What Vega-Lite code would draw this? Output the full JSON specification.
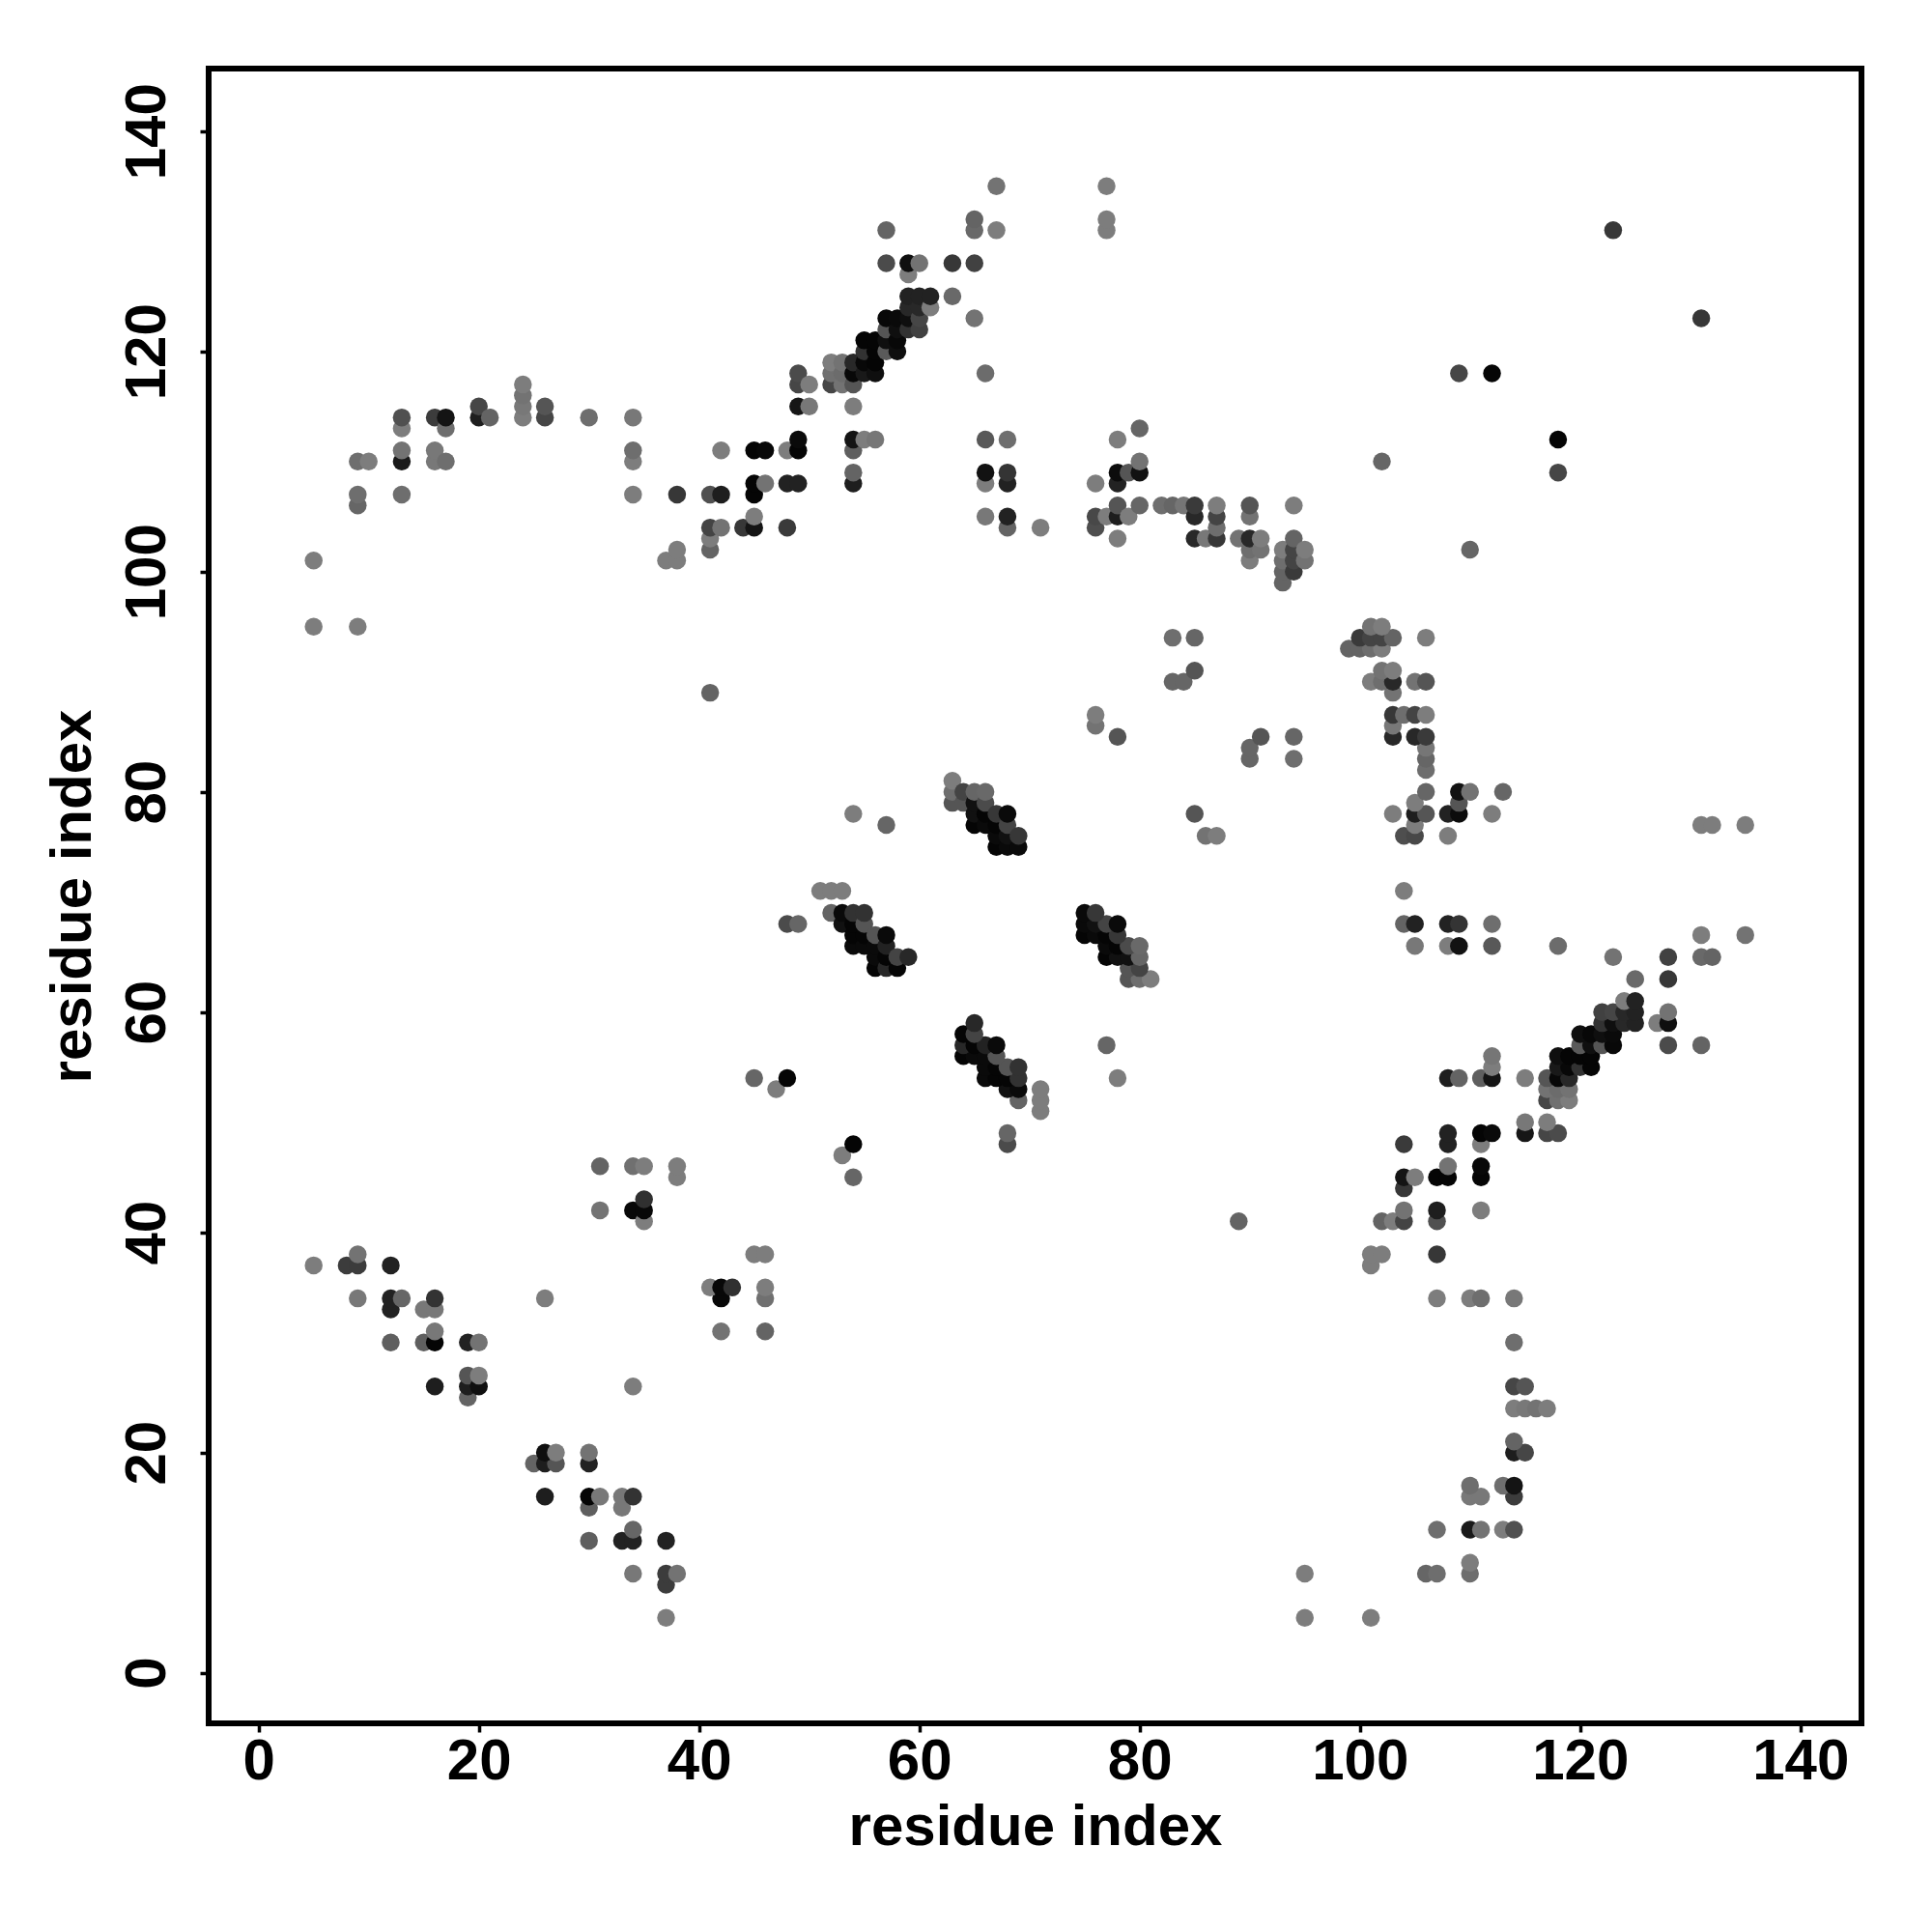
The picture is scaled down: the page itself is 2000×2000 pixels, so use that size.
{"$schema":"https://vega.github.io/schema/vega-lite/v6.json","width":1711,"height":1713,"autosize":{"type":"none"},"padding":{"left":216,"top":71,"right":73,"bottom":216},"background":"white","config":{"view":{"stroke":"#000000","strokeWidth":6,"fill":"white"}},
"data":{"values":[
{"x":5,"y":37,"g":125},{"x":5,"y":95,"g":125},{"x":5,"y":101,"g":125},{"x":8,"y":37,"g":60},{"x":9,"y":34,"g":120},{"x":9,"y":37,"g":60},{"x":9,"y":38,"g":115},{"x":9,"y":95,"g":125},{"x":9,"y":106,"g":102},{"x":9,"y":107,"g":110},{"x":9,"y":110,"g":110},{"x":10,"y":110,"g":125},{"x":12,"y":30,"g":95},{"x":12,"y":33,"g":34},{"x":12,"y":34,"g":34},{"x":12,"y":37,"g":34},{"x":13,"y":34,"g":102},{"x":13,"y":107,"g":110},{"x":13,"y":110,"g":26},{"x":13,"y":111,"g":115},{"x":13,"y":113,"g":125},{"x":13,"y":114,"g":80},{"x":15,"y":30,"g":95},{"x":15,"y":33,"g":120},{"x":16,"y":26,"g":30},{"x":16,"y":30,"g":5},{"x":16,"y":31,"g":120},{"x":16,"y":33,"g":120},{"x":16,"y":34,"g":51},{"x":16,"y":110,"g":120},{"x":16,"y":111,"g":120},{"x":16,"y":114,"g":60},{"x":17,"y":110,"g":110},{"x":17,"y":113,"g":110},{"x":17,"y":114,"g":20},{"x":19,"y":25,"g":100},{"x":19,"y":26,"g":30},{"x":19,"y":27,"g":85},{"x":19,"y":30,"g":34},{"x":20,"y":26,"g":15},{"x":20,"y":27,"g":125},{"x":20,"y":30,"g":115},{"x":20,"y":114,"g":30},{"x":20,"y":115,"g":70},{"x":21,"y":114,"g":100},{"x":24,"y":114,"g":125},{"x":24,"y":115,"g":120},{"x":24,"y":116,"g":115},{"x":24,"y":117,"g":125},{"x":26,"y":34,"g":125},{"x":26,"y":114,"g":70},{"x":26,"y":115,"g":85},{"x":30,"y":114,"g":110},{"x":31,"y":42,"g":115},{"x":31,"y":46,"g":100},{"x":34,"y":42,"g":8},{"x":34,"y":46,"g":112},{"x":34,"y":107,"g":125},{"x":34,"y":110,"g":125},{"x":34,"y":111,"g":110},{"x":34,"y":114,"g":120},{"x":35,"y":41,"g":125},{"x":35,"y":42,"g":8},{"x":35,"y":43,"g":48},{"x":35,"y":46,"g":125},{"x":37,"y":101,"g":125},{"x":38,"y":45,"g":125},{"x":38,"y":46,"g":125},{"x":38,"y":101,"g":125},{"x":38,"y":102,"g":125},{"x":38,"y":107,"g":55},{"x":41,"y":89,"g":100},{"x":41,"y":102,"g":100},{"x":41,"y":103,"g":125},{"x":41,"y":104,"g":68},{"x":41,"y":107,"g":80},{"x":42,"y":104,"g":115},{"x":42,"y":107,"g":30},{"x":42,"y":111,"g":125},{"x":44,"y":104,"g":55},{"x":45,"y":54,"g":102},{"x":45,"y":104,"g":20},{"x":45,"y":105,"g":125},{"x":45,"y":107,"g":5},{"x":45,"y":108,"g":5},{"x":45,"y":111,"g":5},{"x":46,"y":108,"g":115},{"x":46,"y":111,"g":8},{"x":47,"y":53,"g":125},{"x":48,"y":54,"g":5},{"x":48,"y":68,"g":75},{"x":48,"y":104,"g":58},{"x":48,"y":108,"g":34},{"x":48,"y":111,"g":125},{"x":49,"y":68,"g":102},{"x":49,"y":108,"g":34},{"x":49,"y":111,"g":5},{"x":49,"y":112,"g":10},{"x":49,"y":115,"g":22},{"x":49,"y":117,"g":70},{"x":49,"y":118,"g":75},{"x":50,"y":115,"g":120},{"x":50,"y":117,"g":125},{"x":51,"y":71,"g":125},{"x":52,"y":69,"g":100},{"x":52,"y":71,"g":125},{"x":52,"y":117,"g":70},{"x":52,"y":118,"g":112},{"x":52,"y":119,"g":125},{"x":53,"y":68,"g":17},{"x":53,"y":69,"g":10},{"x":53,"y":71,"g":125},{"x":53,"y":117,"g":115},{"x":53,"y":118,"g":108},{"x":53,"y":119,"g":115},{"x":54,"y":66,"g":10},{"x":54,"y":67,"g":5},{"x":54,"y":68,"g":5},{"x":54,"y":69,"g":50},{"x":54,"y":78,"g":125},{"x":54,"y":108,"g":30},{"x":54,"y":109,"g":100},{"x":54,"y":111,"g":95},{"x":54,"y":112,"g":20},{"x":54,"y":115,"g":125},{"x":54,"y":117,"g":85},{"x":54,"y":118,"g":8},{"x":54,"y":119,"g":40},{"x":55,"y":66,"g":10},{"x":55,"y":67,"g":5},{"x":55,"y":68,"g":85},{"x":55,"y":69,"g":50},{"x":55,"y":112,"g":125},{"x":55,"y":118,"g":25},{"x":55,"y":119,"g":8},{"x":55,"y":120,"g":50},{"x":55,"y":121,"g":5},{"x":56,"y":64,"g":5},{"x":56,"y":65,"g":10},{"x":56,"y":66,"g":10},{"x":56,"y":67,"g":85},{"x":56,"y":112,"g":118},{"x":56,"y":118,"g":15},{"x":56,"y":119,"g":5},{"x":56,"y":120,"g":5},{"x":56,"y":121,"g":5},{"x":57,"y":64,"g":40},{"x":57,"y":65,"g":5},{"x":57,"y":66,"g":34},{"x":57,"y":67,"g":10},{"x":57,"y":77,"g":102},{"x":57,"y":120,"g":90},{"x":57,"y":121,"g":15},{"x":57,"y":122,"g":85},{"x":57,"y":123,"g":8},{"x":57,"y":128,"g":75},{"x":57,"y":131,"g":100},{"x":58,"y":64,"g":5},{"x":58,"y":65,"g":68},{"x":58,"y":120,"g":15},{"x":58,"y":121,"g":8},{"x":58,"y":122,"g":15},{"x":58,"y":123,"g":10},{"x":59,"y":65,"g":40},{"x":59,"y":122,"g":50},{"x":59,"y":123,"g":15},{"x":59,"y":124,"g":40},{"x":59,"y":125,"g":34},{"x":59,"y":127,"g":125},{"x":59,"y":128,"g":15},{"x":60,"y":122,"g":65},{"x":60,"y":123,"g":70},{"x":60,"y":124,"g":40},{"x":60,"y":125,"g":34},{"x":60,"y":128,"g":115},{"x":61,"y":124,"g":125},{"x":61,"y":125,"g":34},{"x":63,"y":79,"g":85},{"x":63,"y":80,"g":110},{"x":63,"y":81,"g":125},{"x":63,"y":125,"g":105},{"x":63,"y":128,"g":55},{"x":64,"y":79,"g":85},{"x":64,"y":80,"g":68},{"x":65,"y":77,"g":5},{"x":65,"y":78,"g":17},{"x":65,"y":79,"g":17},{"x":65,"y":80,"g":102},{"x":65,"y":123,"g":115},{"x":65,"y":128,"g":65},{"x":65,"y":131,"g":105},{"x":65,"y":132,"g":100},{"x":66,"y":77,"g":10},{"x":66,"y":78,"g":5},{"x":66,"y":79,"g":75},{"x":66,"y":80,"g":105},{"x":66,"y":105,"g":120},{"x":66,"y":108,"g":125},{"x":66,"y":109,"g":18},{"x":66,"y":112,"g":88},{"x":66,"y":118,"g":108},{"x":67,"y":75,"g":5},{"x":67,"y":76,"g":10},{"x":67,"y":77,"g":5},{"x":67,"y":78,"g":55},{"x":67,"y":131,"g":125},{"x":67,"y":135,"g":115},{"x":68,"y":75,"g":10},{"x":68,"y":76,"g":17},{"x":68,"y":77,"g":68},{"x":68,"y":78,"g":10},{"x":68,"y":104,"g":100},{"x":68,"y":105,"g":34},{"x":68,"y":108,"g":34},{"x":68,"y":109,"g":52},{"x":68,"y":112,"g":110},{"x":69,"y":75,"g":10},{"x":69,"y":76,"g":55},{"x":71,"y":104,"g":125},{"x":76,"y":86,"g":115},{"x":76,"y":87,"g":125},{"x":76,"y":104,"g":78},{"x":76,"y":105,"g":72},{"x":76,"y":108,"g":125},{"x":77,"y":105,"g":125},{"x":77,"y":131,"g":125},{"x":77,"y":132,"g":125},{"x":77,"y":135,"g":125},{"x":78,"y":85,"g":85},{"x":78,"y":103,"g":125},{"x":78,"y":105,"g":30},{"x":78,"y":106,"g":85},{"x":78,"y":108,"g":34},{"x":78,"y":109,"g":12},{"x":78,"y":112,"g":125},{"x":79,"y":105,"g":125},{"x":79,"y":109,"g":85},{"x":80,"y":106,"g":102},{"x":80,"y":109,"g":18},{"x":80,"y":110,"g":115},{"x":80,"y":113,"g":102},{"x":82,"y":106,"g":110},{"x":83,"y":90,"g":102},{"x":83,"y":94,"g":110},{"x":83,"y":106,"g":102},{"x":84,"y":90,"g":102},{"x":84,"y":106,"g":118},{"x":85,"y":91,"g":85},{"x":85,"y":94,"g":102},{"x":85,"y":103,"g":40},{"x":85,"y":105,"g":40},{"x":85,"y":106,"g":58},{"x":86,"y":103,"g":120},{"x":87,"y":103,"g":55},{"x":87,"y":104,"g":110},{"x":87,"y":105,"g":68},{"x":87,"y":106,"g":125},{"x":89,"y":103,"g":115},{"x":90,"y":101,"g":125},{"x":90,"y":102,"g":110},{"x":90,"y":103,"g":40},{"x":90,"y":105,"g":115},{"x":90,"y":106,"g":85},{"x":91,"y":102,"g":115},{"x":91,"y":103,"g":125},{"x":93,"y":99,"g":100},{"x":93,"y":100,"g":100},{"x":93,"y":101,"g":110},{"x":93,"y":102,"g":125},{"x":94,"y":100,"g":58},{"x":94,"y":101,"g":68},{"x":94,"y":102,"g":68},{"x":94,"y":103,"g":100},{"x":94,"y":106,"g":125},{"x":95,"y":101,"g":115},{"x":95,"y":102,"g":125},{"x":102,"y":110,"g":102},{"x":109,"y":118,"g":70},{"x":112,"y":118,"g":5},{"x":123,"y":131,"g":55},
{"y":5,"x":37,"g":125},{"y":5,"x":95,"g":125},{"y":5,"x":101,"g":125},{"y":8,"x":37,"g":60},{"y":9,"x":34,"g":120},{"y":9,"x":37,"g":60},{"y":9,"x":38,"g":115},{"y":9,"x":95,"g":125},{"y":9,"x":106,"g":102},{"y":9,"x":107,"g":110},{"y":9,"x":110,"g":110},{"y":10,"x":110,"g":125},{"y":12,"x":30,"g":95},{"y":12,"x":33,"g":34},{"y":12,"x":34,"g":34},{"y":12,"x":37,"g":34},{"y":13,"x":34,"g":102},{"y":13,"x":107,"g":110},{"y":13,"x":110,"g":26},{"y":13,"x":111,"g":115},{"y":13,"x":113,"g":125},{"y":13,"x":114,"g":80},{"y":15,"x":30,"g":95},{"y":15,"x":33,"g":120},{"y":16,"x":26,"g":30},{"y":16,"x":30,"g":5},{"y":16,"x":31,"g":120},{"y":16,"x":33,"g":120},{"y":16,"x":34,"g":51},{"y":16,"x":110,"g":120},{"y":16,"x":111,"g":120},{"y":16,"x":114,"g":60},{"y":17,"x":110,"g":110},{"y":17,"x":113,"g":110},{"y":17,"x":114,"g":20},{"y":19,"x":25,"g":100},{"y":19,"x":26,"g":30},{"y":19,"x":27,"g":85},{"y":19,"x":30,"g":34},{"y":20,"x":26,"g":15},{"y":20,"x":27,"g":125},{"y":20,"x":30,"g":115},{"y":20,"x":114,"g":30},{"y":20,"x":115,"g":70},{"y":21,"x":114,"g":100},{"y":24,"x":114,"g":125},{"y":24,"x":115,"g":120},{"y":24,"x":116,"g":115},{"y":24,"x":117,"g":125},{"y":26,"x":34,"g":125},{"y":26,"x":114,"g":70},{"y":26,"x":115,"g":85},{"y":30,"x":114,"g":110},{"y":31,"x":42,"g":115},{"y":31,"x":46,"g":100},{"y":34,"x":42,"g":8},{"y":34,"x":46,"g":112},{"y":34,"x":107,"g":125},{"y":34,"x":110,"g":125},{"y":34,"x":111,"g":110},{"y":34,"x":114,"g":120},{"y":35,"x":41,"g":125},{"y":35,"x":42,"g":8},{"y":35,"x":43,"g":48},{"y":35,"x":46,"g":125},{"y":37,"x":101,"g":125},{"y":38,"x":45,"g":125},{"y":38,"x":46,"g":125},{"y":38,"x":101,"g":125},{"y":38,"x":102,"g":125},{"y":38,"x":107,"g":55},{"y":41,"x":89,"g":100},{"y":41,"x":102,"g":100},{"y":41,"x":103,"g":125},{"y":41,"x":104,"g":68},{"y":41,"x":107,"g":80},{"y":42,"x":104,"g":115},{"y":42,"x":107,"g":30},{"y":42,"x":111,"g":125},{"y":44,"x":104,"g":55},{"y":45,"x":54,"g":102},{"y":45,"x":104,"g":20},{"y":45,"x":105,"g":125},{"y":45,"x":107,"g":5},{"y":45,"x":108,"g":5},{"y":45,"x":111,"g":5},{"y":46,"x":108,"g":115},{"y":46,"x":111,"g":8},{"y":47,"x":53,"g":125},{"y":48,"x":54,"g":5},{"y":48,"x":68,"g":75},{"y":48,"x":104,"g":58},{"y":48,"x":108,"g":34},{"y":48,"x":111,"g":125},{"y":49,"x":68,"g":102},{"y":49,"x":108,"g":34},{"y":49,"x":111,"g":5},{"y":49,"x":112,"g":10},{"y":49,"x":115,"g":22},{"y":49,"x":117,"g":70},{"y":49,"x":118,"g":75},{"y":50,"x":115,"g":120},{"y":50,"x":117,"g":125},{"y":51,"x":71,"g":125},{"y":52,"x":69,"g":100},{"y":52,"x":71,"g":125},{"y":52,"x":117,"g":70},{"y":52,"x":118,"g":112},{"y":52,"x":119,"g":125},{"y":53,"x":68,"g":17},{"y":53,"x":69,"g":10},{"y":53,"x":71,"g":125},{"y":53,"x":117,"g":115},{"y":53,"x":118,"g":108},{"y":53,"x":119,"g":115},{"y":54,"x":66,"g":10},{"y":54,"x":67,"g":5},{"y":54,"x":68,"g":5},{"y":54,"x":69,"g":50},{"y":54,"x":78,"g":125},{"y":54,"x":108,"g":30},{"y":54,"x":109,"g":100},{"y":54,"x":111,"g":95},{"y":54,"x":112,"g":20},{"y":54,"x":115,"g":125},{"y":54,"x":117,"g":85},{"y":54,"x":118,"g":8},{"y":54,"x":119,"g":40},{"y":55,"x":66,"g":10},{"y":55,"x":67,"g":5},{"y":55,"x":68,"g":85},{"y":55,"x":69,"g":50},{"y":55,"x":112,"g":125},{"y":55,"x":118,"g":25},{"y":55,"x":119,"g":8},{"y":55,"x":120,"g":50},{"y":55,"x":121,"g":5},{"y":56,"x":64,"g":5},{"y":56,"x":65,"g":10},{"y":56,"x":66,"g":10},{"y":56,"x":67,"g":85},{"y":56,"x":112,"g":118},{"y":56,"x":118,"g":15},{"y":56,"x":119,"g":5},{"y":56,"x":120,"g":5},{"y":56,"x":121,"g":5},{"y":57,"x":64,"g":40},{"y":57,"x":65,"g":5},{"y":57,"x":66,"g":34},{"y":57,"x":67,"g":10},{"y":57,"x":77,"g":102},{"y":57,"x":120,"g":90},{"y":57,"x":121,"g":15},{"y":57,"x":122,"g":85},{"y":57,"x":123,"g":8},{"y":57,"x":128,"g":75},{"y":57,"x":131,"g":100},{"y":58,"x":64,"g":5},{"y":58,"x":65,"g":68},{"y":58,"x":120,"g":15},{"y":58,"x":121,"g":8},{"y":58,"x":122,"g":15},{"y":58,"x":123,"g":10},{"y":59,"x":65,"g":40},{"y":59,"x":122,"g":50},{"y":59,"x":123,"g":15},{"y":59,"x":124,"g":40},{"y":59,"x":125,"g":34},{"y":59,"x":127,"g":125},{"y":59,"x":128,"g":15},{"y":60,"x":122,"g":65},{"y":60,"x":123,"g":70},{"y":60,"x":124,"g":40},{"y":60,"x":125,"g":34},{"y":60,"x":128,"g":115},{"y":61,"x":124,"g":125},{"y":61,"x":125,"g":34},{"y":63,"x":79,"g":85},{"y":63,"x":80,"g":110},{"y":63,"x":81,"g":125},{"y":63,"x":125,"g":105},{"y":63,"x":128,"g":55},{"y":64,"x":79,"g":85},{"y":64,"x":80,"g":68},{"y":65,"x":77,"g":5},{"y":65,"x":78,"g":17},{"y":65,"x":79,"g":17},{"y":65,"x":80,"g":102},{"y":65,"x":123,"g":115},{"y":65,"x":128,"g":65},{"y":65,"x":131,"g":105},{"y":65,"x":132,"g":100},{"y":66,"x":77,"g":10},{"y":66,"x":78,"g":5},{"y":66,"x":79,"g":75},{"y":66,"x":80,"g":105},{"y":66,"x":105,"g":120},{"y":66,"x":108,"g":125},{"y":66,"x":109,"g":18},{"y":66,"x":112,"g":88},{"y":66,"x":118,"g":108},{"y":67,"x":75,"g":5},{"y":67,"x":76,"g":10},{"y":67,"x":77,"g":5},{"y":67,"x":78,"g":55},{"y":67,"x":131,"g":125},{"y":67,"x":135,"g":115},{"y":68,"x":75,"g":10},{"y":68,"x":76,"g":17},{"y":68,"x":77,"g":68},{"y":68,"x":78,"g":10},{"y":68,"x":104,"g":100},{"y":68,"x":105,"g":34},{"y":68,"x":108,"g":34},{"y":68,"x":109,"g":52},{"y":68,"x":112,"g":110},{"y":69,"x":75,"g":10},{"y":69,"x":76,"g":55},{"y":71,"x":104,"g":125},{"y":76,"x":86,"g":115},{"y":76,"x":87,"g":125},{"y":76,"x":104,"g":78},{"y":76,"x":105,"g":72},{"y":76,"x":108,"g":125},{"y":77,"x":105,"g":125},{"y":77,"x":131,"g":125},{"y":77,"x":132,"g":125},{"y":77,"x":135,"g":125},{"y":78,"x":85,"g":85},{"y":78,"x":103,"g":125},{"y":78,"x":105,"g":30},{"y":78,"x":106,"g":85},{"y":78,"x":108,"g":34},{"y":78,"x":109,"g":12},{"y":78,"x":112,"g":125},{"y":79,"x":105,"g":125},{"y":79,"x":109,"g":85},{"y":80,"x":106,"g":102},{"y":80,"x":109,"g":18},{"y":80,"x":110,"g":115},{"y":80,"x":113,"g":102},{"y":82,"x":106,"g":110},{"y":83,"x":90,"g":102},{"y":83,"x":94,"g":110},{"y":83,"x":106,"g":102},{"y":84,"x":90,"g":102},{"y":84,"x":106,"g":118},{"y":85,"x":91,"g":85},{"y":85,"x":94,"g":102},{"y":85,"x":103,"g":40},{"y":85,"x":105,"g":40},{"y":85,"x":106,"g":58},{"y":86,"x":103,"g":120},{"y":87,"x":103,"g":55},{"y":87,"x":104,"g":110},{"y":87,"x":105,"g":68},{"y":87,"x":106,"g":125},{"y":89,"x":103,"g":115},{"y":90,"x":101,"g":125},{"y":90,"x":102,"g":110},{"y":90,"x":103,"g":40},{"y":90,"x":105,"g":115},{"y":90,"x":106,"g":85},{"y":91,"x":102,"g":115},{"y":91,"x":103,"g":125},{"y":93,"x":99,"g":100},{"y":93,"x":100,"g":100},{"y":93,"x":101,"g":110},{"y":93,"x":102,"g":125},{"y":94,"x":100,"g":58},{"y":94,"x":101,"g":68},{"y":94,"x":102,"g":68},{"y":94,"x":103,"g":100},{"y":94,"x":106,"g":125},{"y":95,"x":101,"g":115},{"y":95,"x":102,"g":125},{"y":102,"x":110,"g":102},{"y":109,"x":118,"g":70},{"y":112,"x":118,"g":5},{"y":123,"x":131,"g":55}
]},
"mark":{"type":"circle","opacity":1,"size":342,"clip":true},
"encoding":{
"x":{"field":"x","type":"quantitative","scale":{"domain":[-4.535,145.55],"nice":false,"zero":false},
"axis":{"values":[0,20,40,60,80,100,120,140],"grid":false,"domain":false,"tickSize":9,"tickWidth":3.5,"tickColor":"#000000","labelFont":"Liberation Sans","labelFontWeight":"bold","labelFontSize":60,"labelColor":"#000000","labelPadding":1,"labelOverlap":false,"labelFlush":false,"title":"residue index","titleFont":"Liberation Sans","titleFontWeight":"bold","titleFontSize":60,"titleColor":"#000000","titlePadding":9}},
"y":{"field":"y","type":"quantitative","scale":{"domain":[-4.59,145.68],"nice":false,"zero":false},
"axis":{"values":[0,20,40,60,80,100,120,140],"grid":false,"domain":false,"tickSize":9,"tickWidth":3.5,"tickColor":"#000000","labelFont":"Liberation Sans","labelFontWeight":"bold","labelFontSize":60,"labelColor":"#000000","labelAngle":-90,"labelAlign":"center","labelBaseline":"alphabetic","labelPadding":37,"labelOverlap":false,"labelFlush":false,"title":"residue index","titleFont":"Liberation Sans","titleFontWeight":"bold","titleFontSize":60,"titleColor":"#000000","titlePadding":16}},
"color":{"field":"g","type":"quantitative","legend":null,"scale":{"domain":[0,255],"range":["#000000","#ffffff"],"interpolate":"rgb"}},
"order":[{"field":"x","type":"quantitative"},{"field":"y","type":"quantitative"}]
}}
